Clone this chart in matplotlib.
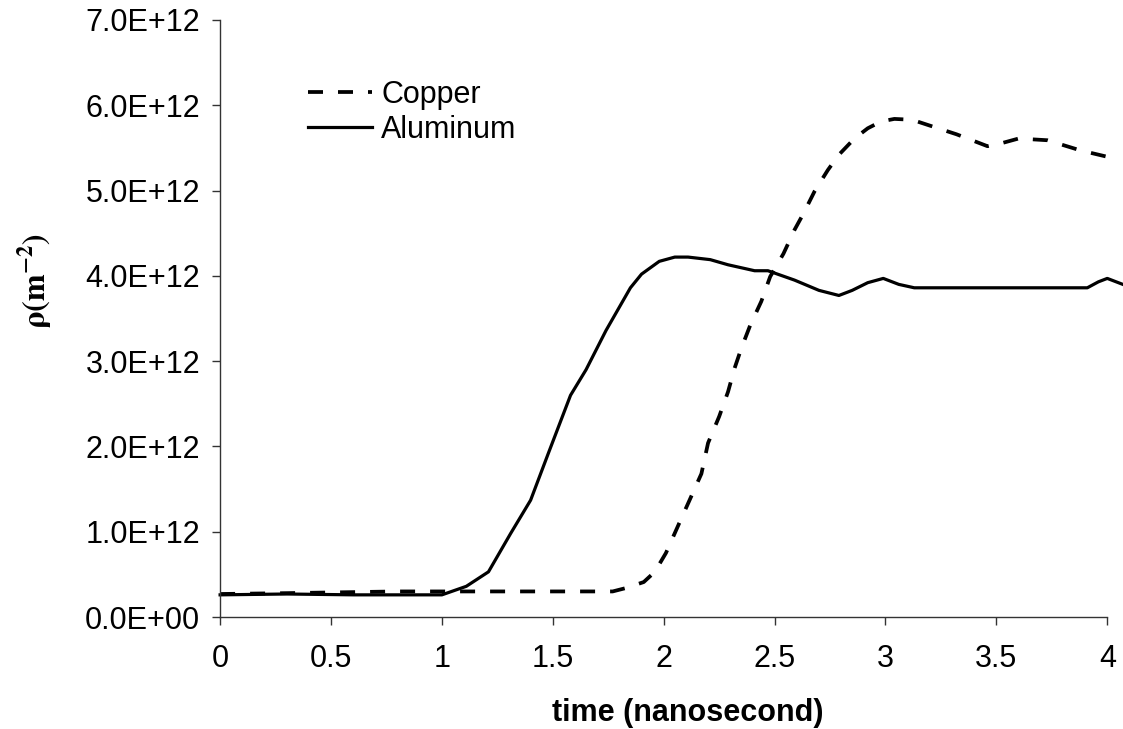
import matplotlib
matplotlib.use("Agg")
import matplotlib.pyplot as plt
import numpy as np

plt.rcParams['font.family'] = ['Liberation Sans', 'DejaVu Sans']
plt.rcParams['mathtext.fontset'] = 'stix'

# time in nanoseconds, density in units of 1e12 m^-2
al_t = [0, 0.3, 0.6, 1.0, 1.11, 1.21, 1.31, 1.40, 1.48, 1.58, 1.65, 1.74, 1.85,
        1.90, 1.98, 2.05, 2.11, 2.21, 2.29, 2.41, 2.47, 2.59, 2.70, 2.79, 2.85,
        2.92, 2.99, 3.06, 3.13, 3.5, 3.91, 3.96, 4.00, 4.07]
al_rho = [0.26, 0.27, 0.26, 0.26, 0.36, 0.53, 0.98, 1.37, 1.92, 2.60, 2.90, 3.36, 3.86,
          4.02, 4.17, 4.22, 4.22, 4.19, 4.13, 4.06, 4.06, 3.95, 3.83, 3.77, 3.83,
          3.92, 3.97, 3.90, 3.86, 3.86, 3.86, 3.93, 3.97, 3.90]

cu_t = [0, 0.3, 0.8, 1.0, 1.5, 1.77, 1.83, 1.91, 1.96, 2.01, 2.07, 2.12, 2.17, 2.20,
        2.25, 2.29, 2.32, 2.35, 2.39, 2.44, 2.48, 2.54, 2.59, 2.63, 2.68, 2.74, 2.79,
        2.86, 2.92, 2.98, 3.04, 3.12, 3.19, 3.32, 3.46, 3.53, 3.6, 3.73, 3.88, 4.01, 4.05]
cu_rho = [0.27, 0.28, 0.30, 0.30, 0.30, 0.30, 0.34, 0.41, 0.53, 0.75, 1.10, 1.39, 1.68, 2.04,
          2.35, 2.64, 2.92, 3.15, 3.42, 3.70, 3.99, 4.26, 4.54, 4.73, 4.99, 5.24, 5.42,
          5.61, 5.73, 5.81, 5.84, 5.83, 5.77, 5.66, 5.52, 5.56, 5.61, 5.59, 5.47, 5.39, 5.37]

x_ticks = [0, 0.5, 1, 1.5, 2, 2.5, 3, 3.5, 4]
y_ticks = [0, 1e12, 2e12, 3e12, 4e12, 5e12, 6e12, 7e12]

fig = plt.figure(figsize=(11.23, 7.29), dpi=100)
ax = fig.add_axes([0.196, 0.1536, 0.79, 0.819])

ax.plot(cu_t, np.array(cu_rho) * 1e12, color='black', lw=2.7, dashes=(4.0, 4.0),
        label='Copper', clip_on=False)
ax.plot(al_t, np.array(al_rho) * 1e12, color='black', lw=2.3, label='Aluminum',
        clip_on=False)

ax.set_xlim(0, 4)
ax.set_ylim(0, 7e12)
ax.set_xticks(x_ticks)
ax.set_xticklabels(['{:g}'.format(v) for v in x_ticks])
ax.set_yticks(y_ticks)
ax.set_yticklabels(['{:.1E}'.format(v) for v in y_ticks])

for s in ['top', 'right']:
    ax.spines[s].set_visible(False)
for s in ['left', 'bottom']:
    ax.spines[s].set_color('#333333')
    ax.spines[s].set_linewidth(1.0)
ax.tick_params(axis='both', direction='out', length=5.5, width=1.0, color='#333333',
               labelsize=22)
ax.tick_params(axis='x', pad=14)
ax.tick_params(axis='y', pad=9)

ax.set_xlabel('time (nanosecond)', fontsize=22, fontweight='bold')
ax.xaxis.set_label_coords(0.527, -0.161)
ax.xaxis.label.set_va('center')
ax.set_ylabel(r'$\mathbf{\rho(m^{-2})}$', fontsize=23)
ax.yaxis.set_label_coords(-0.2086, 0.563)
ax.yaxis.label.set_va('center')

ax.legend(loc='upper left', bbox_to_anchor=(0.0816, 0.925), frameon=False, fontsize=22,
          handlelength=2.1, handletextpad=0.3, labelspacing=0.15, borderpad=0)

fig.savefig('out.png', dpi=100)
